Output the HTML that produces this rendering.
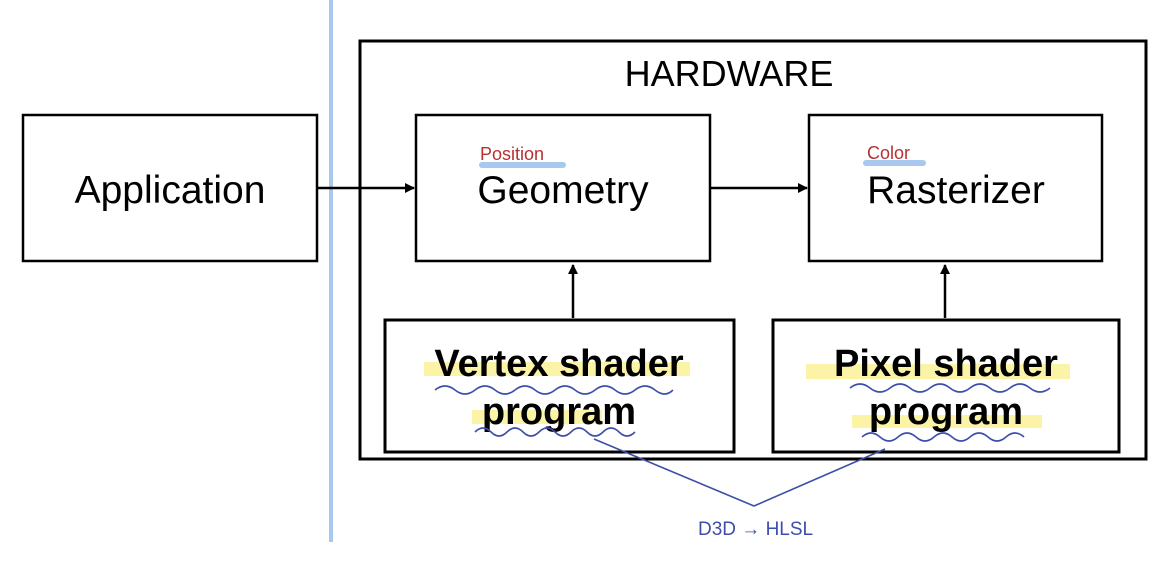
<!DOCTYPE html>
<html><head><meta charset="utf-8"><style>
body{margin:0;background:#fff;width:1159px;height:564px;overflow:hidden}
text{font-family:"Liberation Sans","DejaVu Sans",sans-serif}
</style></head><body>
<svg width="1159" height="564" viewBox="0 0 1159 564" xmlns="http://www.w3.org/2000/svg">
<defs><marker id="a" markerWidth="10" markerHeight="10" refX="9" refY="5" orient="auto" markerUnits="userSpaceOnUse"><path d="M0,0 L10,5 L0,10 z" fill="#000"/></marker></defs>
<line x1="331" y1="0" x2="331" y2="542" stroke="#a8c8ee" stroke-width="4"/>
<rect x="360" y="41" width="786" height="418" fill="none" stroke="#000" stroke-width="3"/>
<text x="729" y="86" font-size="36" text-anchor="middle">HARDWARE</text>
<rect x="23" y="115" width="294" height="146" fill="none" stroke="#000" stroke-width="2.5"/>
<text x="170" y="203" font-size="39" text-anchor="middle">Application</text>
<rect x="416" y="115" width="294" height="146" fill="none" stroke="#000" stroke-width="2.5"/>
<text x="563" y="203" font-size="39" text-anchor="middle">Geometry</text>
<rect x="809" y="115" width="293" height="146" fill="none" stroke="#000" stroke-width="2.5"/>
<text x="956" y="203" font-size="39" text-anchor="middle">Rasterizer</text>
<line x1="482" y1="165" x2="563" y2="165" stroke="#a8c8ee" stroke-width="6" stroke-linecap="round"/>
<text x="480" y="160" font-size="18" fill="#b83030" font-family="DejaVu Sans">Position</text>
<line x1="866" y1="163" x2="923" y2="163" stroke="#a8c8ee" stroke-width="6" stroke-linecap="round"/>
<text x="867" y="159" font-size="18" fill="#b83030" font-family="DejaVu Sans">Color</text>
<line x1="318" y1="188" x2="414" y2="188" stroke="#000" stroke-width="2.5" marker-end="url(#a)"/>
<line x1="711" y1="188" x2="807" y2="188" stroke="#000" stroke-width="2.5" marker-end="url(#a)"/>
<line x1="573" y1="318" x2="573" y2="265" stroke="#000" stroke-width="2.5" marker-end="url(#a)"/>
<line x1="945" y1="318" x2="945" y2="265" stroke="#000" stroke-width="2.5" marker-end="url(#a)"/>
<rect x="385" y="320" width="349" height="132" fill="none" stroke="#000" stroke-width="3"/>
<rect x="773" y="320" width="346" height="132" fill="none" stroke="#000" stroke-width="3"/>
<rect x="424" y="362" width="266" height="14" fill="#fbf3a6"/>
<rect x="472" y="410" width="130" height="14" fill="#fbf3a6"/>
<rect x="806" y="364" width="264" height="15" fill="#fbf3a6"/>
<rect x="852" y="415" width="190" height="13" fill="#fbf3a6"/>
<text x="559" y="376" font-size="38" font-weight="bold" text-anchor="middle">Vertex shader</text>
<text x="559" y="424" font-size="38" font-weight="bold" text-anchor="middle">program</text>
<text x="946" y="376" font-size="38" font-weight="bold" text-anchor="middle">Pixel shader</text>
<text x="946" y="424" font-size="38" font-weight="bold" text-anchor="middle">program</text>
<g fill="none" stroke="#3d4fa8" stroke-width="1.6">
<path d="M435,390 q10,-8 20,0 t20,0 t20,0 t20,0 t20,0 t20,0 t20,0 t20,0 t20,0 t20,0 t20,0 t18,0"/>
<path d="M475,432 q8,-8 16,0 t16,0 t16,0 t16,0 t16,0 t16,0 t16,0 t16,0 t16,0 t16,0"/>
<path d="M850,388 q10,-8 20,0 t20,0 t20,0 t20,0 t20,0 t20,0 t20,0 t20,0 t20,0 t20,0"/>
<path d="M862,437 q9,-8 18,0 t18,0 t18,0 t18,0 t18,0 t18,0 t18,0 t18,0 t18,0"/>
<polyline points="594,439 754,506 885,449"/>
</g>
<text x="698" y="535" font-size="19" fill="#3d4fa8" font-family="DejaVu Sans">D3D → HLSL</text>
</svg>
</body></html>
